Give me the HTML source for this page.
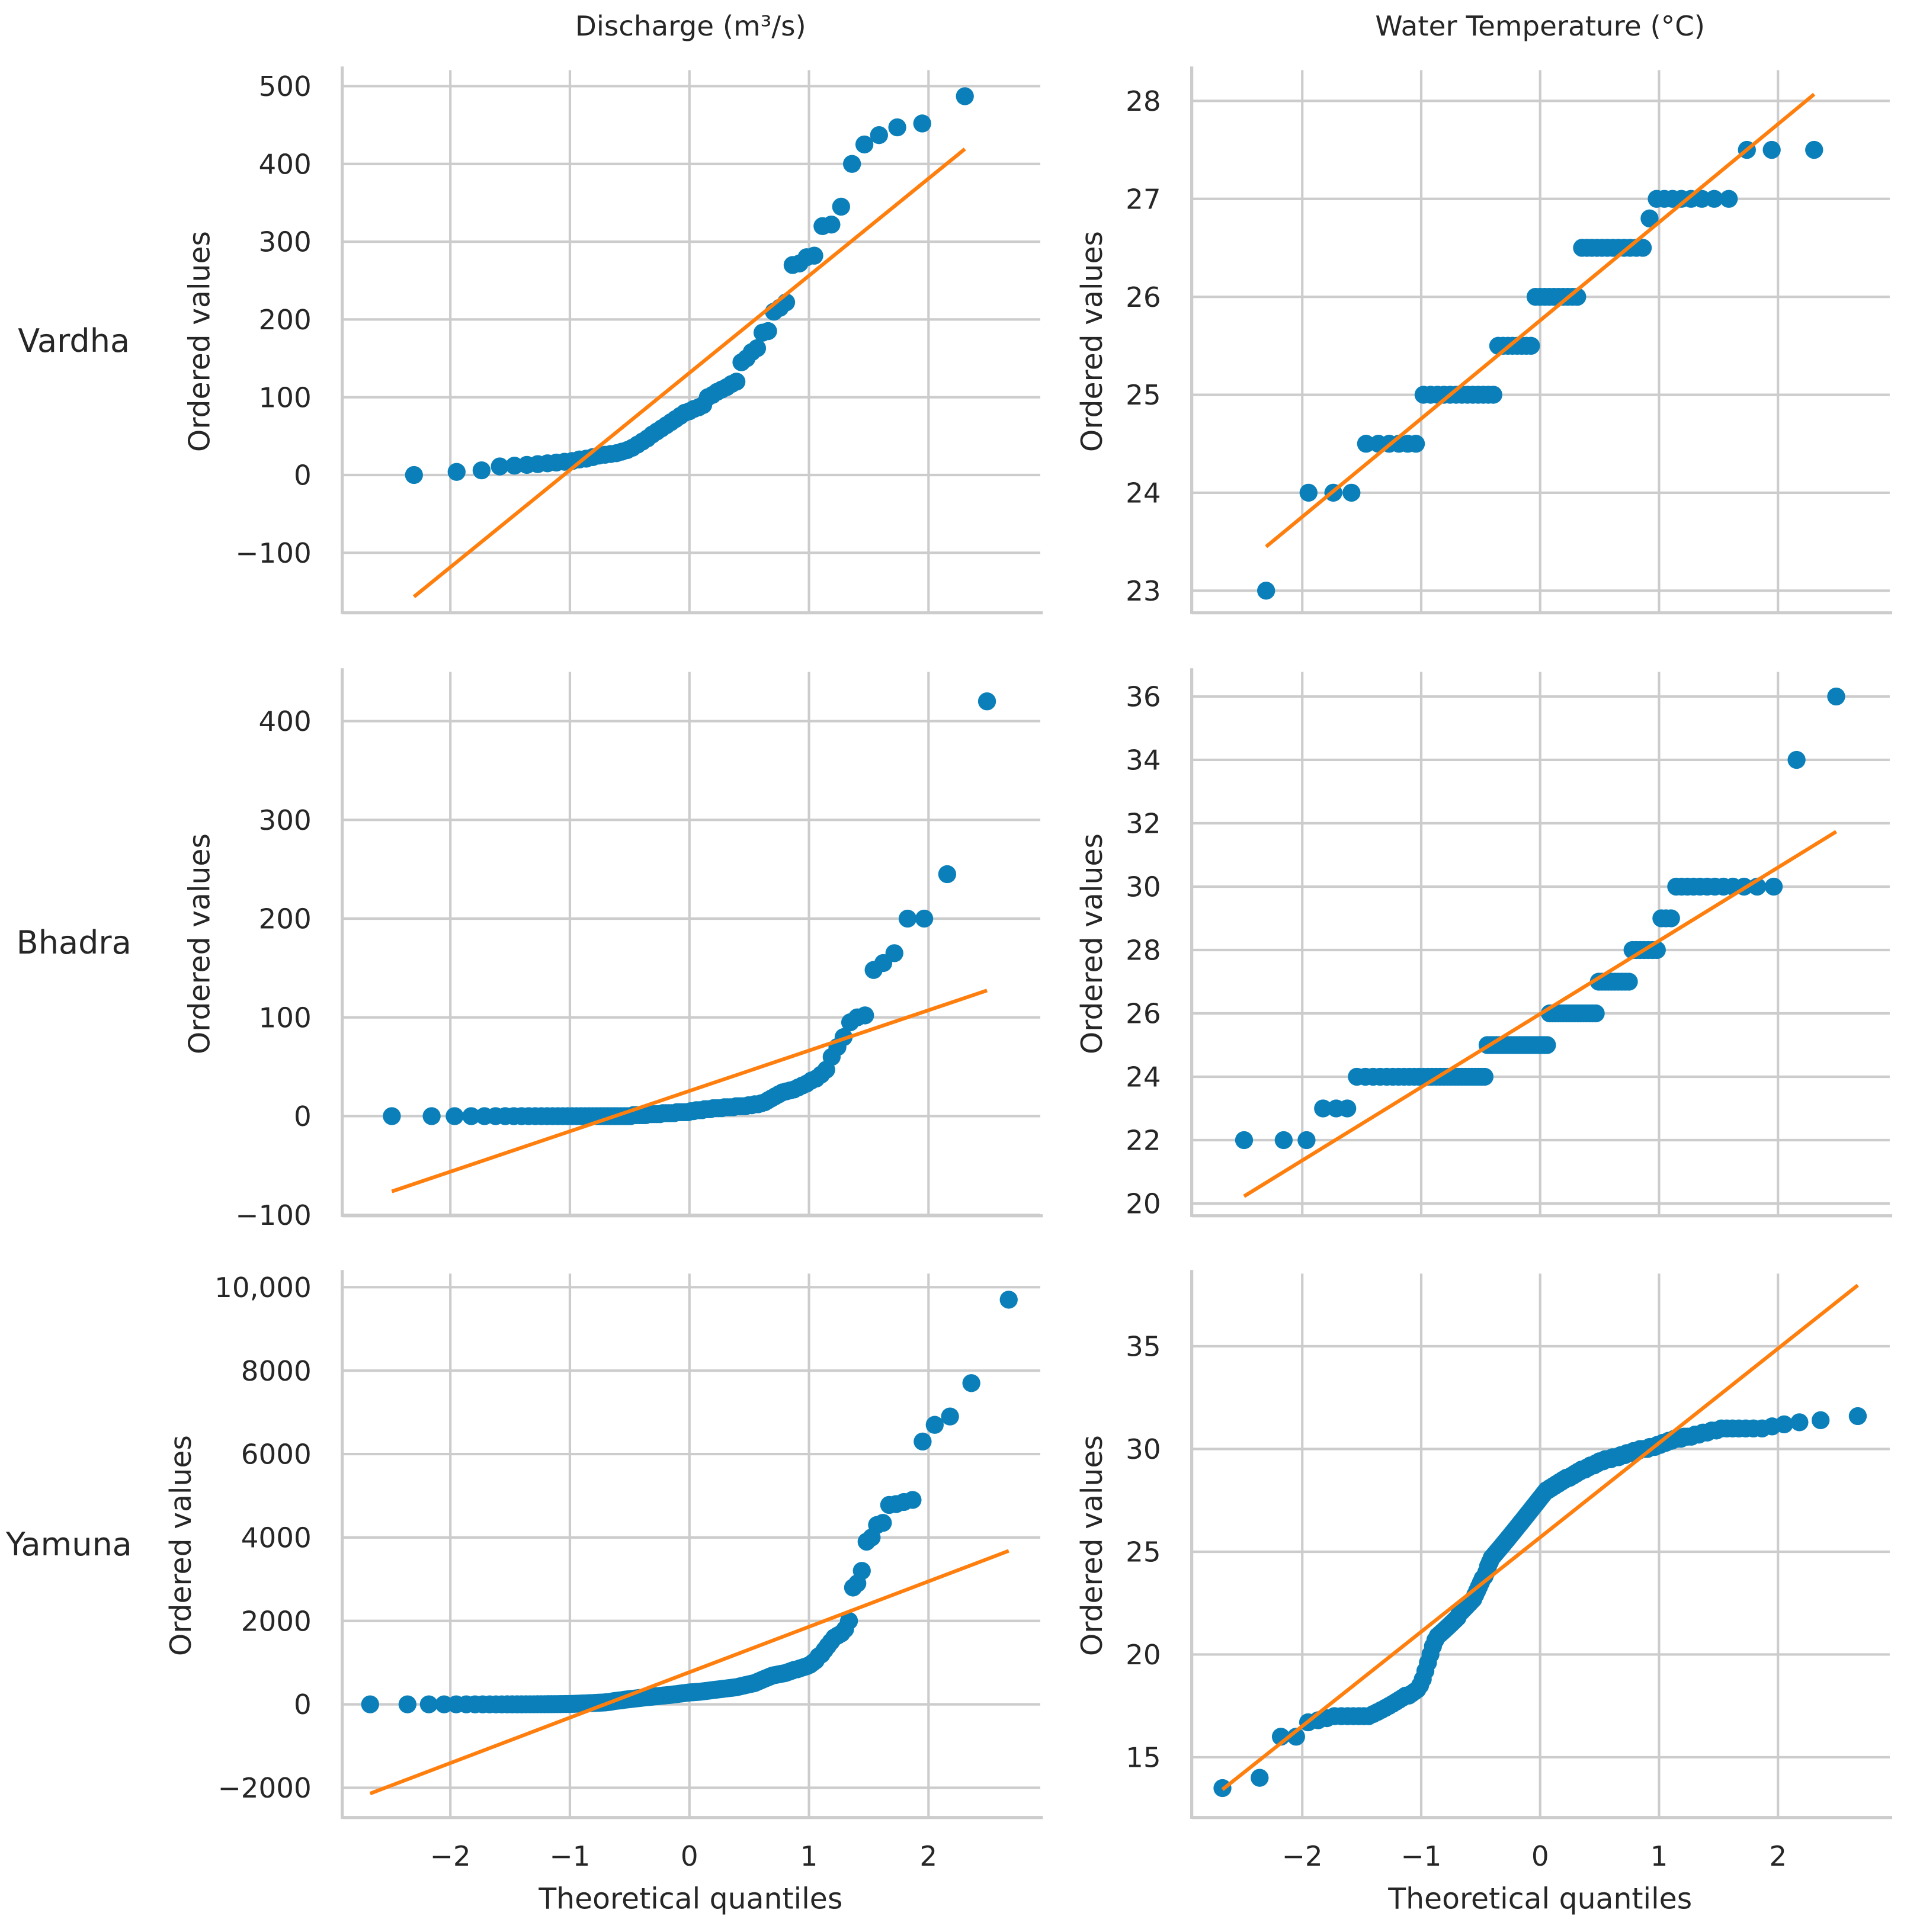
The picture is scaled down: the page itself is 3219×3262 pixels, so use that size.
<!DOCTYPE html>
<html><head><meta charset="utf-8"><style>
html,body{margin:0;padding:0;background:#fff;}
svg{display:block;font-family:"DejaVu Sans","Liberation Sans",sans-serif;}
</style></head><body>
<svg id="chart" width="3219" height="3262" viewBox="0 0 1549 1570" preserveAspectRatio="none" xmlns="http://www.w3.org/2000/svg">
<text x="561" y="29" font-size="22.5" fill="#262626" text-anchor="middle">Discharge (m³/s)</text>
<text x="1251" y="29" font-size="22.5" fill="#262626" text-anchor="middle">Water Temperature (°C)</text>
<text x="60" y="286" font-size="26" fill="#262626" text-anchor="middle">Vardha</text>
<text x="60" y="775" font-size="26" fill="#262626" text-anchor="middle">Bhadra</text>
<text x="56" y="1264" font-size="26" fill="#262626" text-anchor="middle">Yamuna</text>
<text x="561" y="1551" font-size="23.5" fill="#262626" text-anchor="middle">Theoretical quantiles</text>
<text x="1251" y="1551" font-size="23.5" fill="#262626" text-anchor="middle">Theoretical quantiles</text>
</svg>
<script>
// ---- data (ordered sample values) ----
const vardhaDischarge = [0,4,6,11,12,13,14,15,16,17,18,20,21,23,25,26,27,28,30,32,35,39,43,47,52,56,60,64,68,72,76,80,82,85,87,90,100,103,107,110,113,117,120,145,150,158,163,183,185,210,215,222,270,272,280,282,320,322,345,400,425,437,447,452,487];
const vardhaTemp = [23,24,24,24,24.5,24.5,24.5,24.5,24.5,24.5,25,25,25,25,25,25,25,25,25,25,25,25,25,25.5,25.5,25.5,25.5,25.5,25.5,25.5,25.5,26,26,26,26,26,26,26,26,26,26,26.5,26.5,26.5,26.5,26.5,26.5,26.5,26.5,26.5,26.5,26.5,26.5,26.8,27,27,27,27,27,27,27,27,27.5,27.5,27.5];
const bhadraDischarge = [0,0,0,0,0,0,0,0,0,0,0,0,0,0,0,0,0,0,0,0,0,0,0,0,0,0,0,0,0,0,0,0,0,0,1,1,1,1,1,2,2,2,2,2,3,3,3,3,3,4,4,4,4,4,5,5,6,6,6,7,7,7,8,8,8,8,9,9,9,9,10,10,10,10,11,11,12,12,13,14,16,18,20,22,24,25,26,27,29,31,33,36,38,42,47,60,70,80,95,100,102,148,155,165,200,200,245,420];
const bhadraTemp = [22,22,22,23,23,23,24,24,24,24,24,24,24,24,24,24,24,24,24,24,24,24,24,24,24,24,24,24,24,24,24,24,24,24,24,25,25,25,25,25,25,25,25,25,25,25,25,25,25,25,25,25,25,25,25,25,25,26,26,26,26,26,26,26,26,26,26,26,26,26,26,26,26,26,27,27,27,27,27,27,27,27,27,27,28,28,28,28,28,28,28,29,29,29,30,30,30,30,30,30,30,30,30,30,30,30,34,36];
const yamunaDischarge = [0,0,0,0,0,0,0,0,0,0,0,1,1,1,1,2,2,2,3,3,3,4,4,5,5,6,7,8,8,10,12,15,18,20,22,25,28,30,32,35,38,40,42,45,50,55,60,70,80,85,90,95,100,110,115,120,125,130,135,140,145,150,155,160,165,170,174,178,182,186,190,194,198,202,206,210,214,218,222,225,230,235,240,245,250,255,260,265,270,275,280,285,288,290,292,295,298,300,305,310,315,320,325,330,335,340,345,350,355,360,365,370,375,380,385,390,395,400,405,410,420,430,440,450,460,470,480,490,500,510,530,550,570,590,610,630,650,670,690,700,710,720,730,740,750,770,790,810,830,840,860,880,900,920,950,1000,1050,1150,1200,1300,1400,1500,1600,1650,1700,1800,2000,2800,2900,3200,3900,4000,4300,4350,4780,4800,4850,4900,6300,6700,6900,7700,9700];
const yamunaTemp = [13.5,14,16,16,16.7,16.8,16.9,17,17,17,17,17,17,17,17.1,17.2,17.3,17.4,17.5,17.6,17.7,17.8,17.9,18,18,18.1,18.2,18.3,18.5,18.8,19.2,19.6,20,20.4,20.7,20.9,21,21.1,21.2,21.3,21.4,21.5,21.6,21.7,21.8,22,22.1,22.2,22.3,22.4,22.5,22.6,22.7,22.9,23.1,23.3,23.5,23.7,23.8,24,24.3,24.5,24.7,24.8,24.9,25,25.1,25.2,25.3,25.4,25.5,25.6,25.7,25.8,25.9,26,26.1,26.2,26.3,26.4,26.5,26.6,26.7,26.8,26.9,27,27.1,27.2,27.3,27.4,27.5,27.6,27.7,27.8,27.9,28,28,28.1,28.1,28.2,28.2,28.3,28.3,28.4,28.4,28.5,28.5,28.6,28.6,28.6,28.7,28.7,28.8,28.8,28.9,28.9,29,29,29,29.1,29.1,29.2,29.2,29.2,29.3,29.3,29.4,29.4,29.4,29.5,29.5,29.5,29.5,29.6,29.6,29.6,29.6,29.7,29.7,29.7,29.8,29.8,29.8,29.9,29.9,29.9,30,30,30,30,30.1,30.1,30.1,30.2,30.2,30.3,30.3,30.4,30.4,30.5,30.5,30.5,30.6,30.6,30.6,30.7,30.7,30.8,30.8,30.9,30.9,31,31,31,31,31,31,31,31.1,31.2,31.3,31.4,31.6];

const xTicks = [-2,-1,0,1,2];
const xTickLabels = ["\u22122","\u22121","0","1","2"];
const vardhaDischargeTicks = [-100,0,100,200,300,400,500];
const vardhaTempTicks = [23,24,25,26,27,28];
const bhadraDischargeTicks = [-100,0,100,200,300,400];
const bhadraTempTicks = [20,22,24,26,28,30,32,34,36];
const yamunaDischargeTicks = [-2000,0,2000,4000,6000,8000,10000];
const yamunaTempTicks = [15,20,25,30,35];

// ---- layout (pixel geometry, not data) ----
const svg = document.getElementById('chart');
const NS = 'http://www.w3.org/2000/svg';
function mk(tag, attrs, parent){ const e=document.createElementNS(NS,tag); for(const k in attrs) e.setAttribute(k,attrs[k]); (parent||svg).appendChild(e); return e; }

function ppf(p){
  const a=[-39.69683028665376,220.9460984245205,-275.9285104469687,138.3577518672690,-30.66479806614716,2.506628277459239];
  const b=[-54.47609879822406,161.5858368580409,-155.6989798598866,66.80131188771972,-13.28068155288572];
  const c=[-0.007784894002430293,-0.3223964580411365,-2.400758277161838,-2.549732539343734,4.374664141464968,2.938163982698783];
  const d=[0.007784695709041462,0.3224671290700398,2.445134137142996,3.754408661907416];
  const pl=0.02425; let q,r;
  if(p<pl){q=Math.sqrt(-2*Math.log(p));return (((((c[0]*q+c[1])*q+c[2])*q+c[3])*q+c[4])*q+c[5])/((((d[0]*q+d[1])*q+d[2])*q+d[3])*q+1);}
  if(p>1-pl){q=Math.sqrt(-2*Math.log(1-p));return -(((((c[0]*q+c[1])*q+c[2])*q+c[3])*q+c[4])*q+c[5])/((((d[0]*q+d[1])*q+d[2])*q+d[3])*q+1);}
  q=p-0.5;r=q*q;return (((((a[0]*r+a[1])*r+a[2])*r+a[3])*r+a[4])*r+a[5])*q/(((((b[0]*r+b[1])*r+b[2])*r+b[3])*r+b[4])*r+1);
}
function quantiles(n){
  const out=[]; const mn=Math.pow(0.5,1/n);
  for(let i=1;i<=n;i++){ let m; if(i===1) m=1-mn; else if(i===n) m=mn; else m=(i-0.3175)/(n+0.365); out.push(ppf(m)); }
  return out;
}

function panel(cfg){
  const {name,data,ticks,fmt,left,top,bottom,right,x0,xu,yA,pA,yB,pB,ylabX,showX} = cfg;
  const g = mk('g',{});
  
  
  const sx = q => x0 + q*xu;
  const sy = v => pA + (v-yA)*(pB-pA)/(yB-yA);
  xTicks.forEach((t,i)=>{
    const l=mk('line',{x1:sx(t),x2:sx(t),y1:top,y2:bottom,stroke:'#cccccc','stroke-width':2},g);
    
    
    if(showX){
      const t2=mk('text',{x:sx(t),y:bottom+39,'font-size':22.5,fill:'#262626','text-anchor':'middle'},g);
      t2.textContent=xTickLabels[i];
      
      
    }
  });
  ticks.forEach(t=>{
    const l=mk('line',{x1:left,x2:right,y1:sy(t),y2:sy(t),stroke:'#cccccc','stroke-width':2},g);
    
    
    const tx=mk('text',{x:left-25,y:sy(t)+8,'font-size':22.5,fill:'#262626','text-anchor':'end'},g);
    tx.textContent=fmt(t);
    
    
  });
  const sp1=mk('line',{x1:left,x2:left,y1:top-3,y2:bottom+1,stroke:'#cccccc','stroke-width':2.5},g);
  
  
  const sp2=mk('line',{x1:left,x2:right+2,y1:bottom,y2:bottom,stroke:'#cccccc','stroke-width':2.5},g);
  
  
  const yl=mk('text',{x:ylabX,y:(top+bottom)/2,'font-size':23.5,fill:'#262626','text-anchor':'middle',transform:`rotate(-90 ${ylabX} ${(top+bottom)/2})`},g);
  yl.textContent='Ordered values';
  
  
  const q = quantiles(data.length);
  data.forEach((v,i)=>{
    const c=mk('circle',{cx:sx(q[i]),cy:sy(v),r:7.3,fill:'#0a7fb9'},g);
    
    
  });
  const n=data.length; let mq=0,mv=0; for(let i=0;i<n;i++){mq+=q[i];mv+=data[i];} mq/=n; mv/=n;
  let sxy=0,sxx=0; for(let i=0;i<n;i++){sxy+=(q[i]-mq)*(data[i]-mv); sxx+=(q[i]-mq)**2;}
  const slope=sxy/sxx, icpt=mv-slope*mq;
  const ln=mk('line',{x1:sx(q[0]),y1:sy(icpt+slope*q[0]),x2:sx(q[n-1]),y2:sy(icpt+slope*q[n-1]),stroke:'#ff7f0e','stroke-width':3},g);
  
  
}
const plain = t => (t<0?'\u2212':'')+Math.abs(t);
const comma = t => (t<0?'\u2212':'')+(Math.abs(t)>=10000?Math.abs(t).toLocaleString('en-US'):Math.abs(t));

const L={left:278,right:845,x0:560,xu:97.1,ylabX:170};
const R={left:968,right:1535,x0:1251,xu:96.6,ylabX:895};
panel({name:'vardha-discharge',data:vardhaDischarge,ticks:vardhaDischargeTicks,fmt:plain,...L,top:57,bottom:498,yA:0,pA:386,yB:500,pB:70});
panel({name:'vardha-temperature',data:vardhaTemp,ticks:vardhaTempTicks,fmt:plain,...R,top:57,bottom:498,yA:23,pA:480,yB:28,pB:82});
panel({name:'bhadra-discharge',data:bhadraDischarge,ticks:bhadraDischargeTicks,fmt:plain,...L,top:546,bottom:988,yA:0,pA:907,yB:400,pB:586});
panel({name:'bhadra-temperature',data:bhadraTemp,ticks:bhadraTempTicks,fmt:plain,...R,top:546,bottom:988,yA:20,pA:978,yB:36,pB:566});
panel({name:'yamuna-discharge',data:yamunaDischarge,ticks:yamunaDischargeTicks,fmt:comma,...L,ylabX:155,top:1035,bottom:1477,yA:0,pA:1385,yB:10000,pB:1046,showX:true});
panel({name:'yamuna-temperature',data:yamunaTemp,ticks:yamunaTempTicks,fmt:plain,...R,top:1035,bottom:1477,yA:15,pA:1428,yB:35,pB:1094,showX:true});
</script>
</body></html>
